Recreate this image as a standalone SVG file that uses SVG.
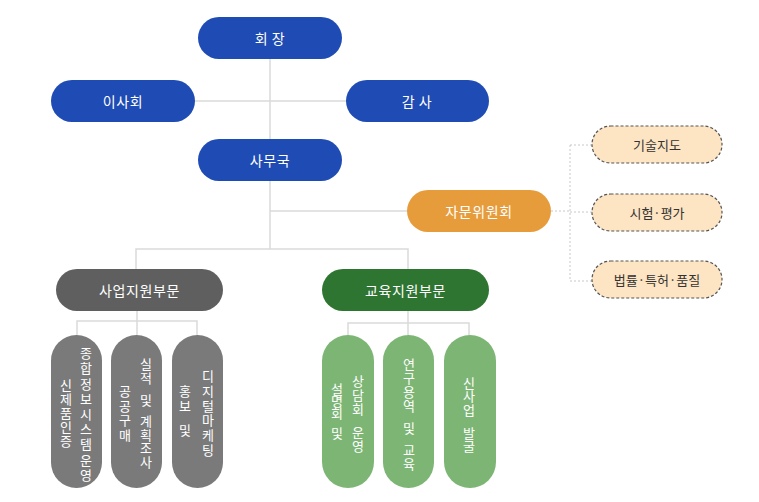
<svg xmlns="http://www.w3.org/2000/svg" width="759" height="502" viewBox="0 0 759 502">
<style>
text{font-family:"Noto Sans CJK KR","Noto Sans",sans-serif;}
.lbl{font-size:14px;fill:#fff;text-anchor:middle;dominant-baseline:central;letter-spacing:0.6px;}
.sub{font-size:13px;fill:#333;text-anchor:middle;dominant-baseline:central;}
.vt{font-size:13px;fill:#fff;text-anchor:middle;dominant-baseline:central;}
.blue{fill:#1f4bb5;}
.grey{fill:#5f5f5f;}
.green{fill:#2f7532;}
.orange{fill:#e79c3b;}
.pale{fill:#fde4c2;stroke:#555;stroke-width:1.2;stroke-dasharray:3 2;}
.pg{fill:#7a7a7a;}
.pgr{fill:#7db575;}
.ln{fill:none;stroke:#dadada;stroke-width:1.5;}
.dl{fill:none;stroke:#c8c8c8;stroke-width:1;stroke-dasharray:2 2;}
</style>
<rect width="759" height="502" fill="#fff"/>
<g id="connectors">
<path class="ln" d="M270 59V249M195 101H346M270 211H407M136 269V249H408V269"/>
<path class="ln" d="M137 311V321M77 335V321H197V335M137 321V335"/>
<path class="ln" d="M408 311V323M348 335V323H469V335M408 323V335"/>
<path class="dl" d="M551 211H570M570 145V281M570 145H592M570 212H592M570 281H592"/>
</g>
<g id="n-chair"><rect class="blue" x="198" y="17" width="144" height="42" rx="21"/><text class="lbl" x="270" y="38">회 장</text></g>
<g id="n-board"><rect class="blue" x="51" y="80" width="144" height="42" rx="21"/><text class="lbl" x="123" y="101">이사회</text></g>
<g id="n-audit"><rect class="blue" x="346" y="80" width="143" height="42" rx="21"/><text class="lbl" x="417" y="101">감 사</text></g>
<g id="n-office"><rect class="blue" x="198" y="139" width="144" height="42" rx="21"/><text class="lbl" x="270" y="160">사무국</text></g>
<g id="n-advisory"><rect class="orange" x="407" y="190" width="144" height="42" rx="21"/><text class="lbl" x="479" y="211">자문위원회</text></g>
<g id="n-tech"><rect class="pale" x="592" y="126" width="130" height="37" rx="18.5"/><text class="sub" x="657" y="144.5">기술지도</text></g>
<g id="n-test"><rect class="pale" x="592" y="194" width="130" height="37" rx="18.5"/><text class="sub" x="657" y="212.5">시험·평가</text></g>
<g id="n-law"><rect class="pale" x="592" y="261" width="130" height="37" rx="18.5"/><text class="sub" x="657" y="279.5">법률·특허·품질</text></g>
<g id="n-biz"><rect class="grey" x="56" y="269" width="167" height="42" rx="21"/><text class="lbl" x="139.5" y="290">사업지원부문</text></g>
<g id="n-edu"><rect class="green" x="322" y="269" width="167" height="42" rx="21"/><text class="lbl" x="405.5" y="290">교육지원부문</text></g>
<g id="p-b1"><rect class="pg" x="51" y="335" width="51" height="153" rx="25.5"/>
<text class="vt" x="66 66 66 66 66" y="384.9 398.7 412.5 426.3 440.1">신제품인증</text>
<text class="vt" x="86 86 86 86 86 86 86 86 86" y="352.6 367.8 383 398.2 413.4 428.6 443.8 459 474.2">종합정보시스템운영</text></g>
<g id="p-b2"><rect class="pg" x="111" y="335" width="51" height="153" rx="25.5"/>
<text class="vt" x="125 125 125 125" y="390.4 405.1 419.9 434.6">공공구매</text>
<text class="vt" x="146 146 146 146 146 146 146 146 146" y="363.8 377.3 388.4 399 409.8 420.6 434.2 447.7 461.2">실적 및 계획조사</text></g>
<g id="p-b3"><rect class="pg" x="172" y="335" width="51" height="153" rx="25.5"/>
<text class="vt" x="185 185 185 185" y="390.5 405.5 417.5 429.5">홍보 및</text>
<text class="vt" x="208 208 208 208 208 208" y="375.4 390.2 405 419.8 434.6 449.4">디지털마케팅</text></g>
<g id="p-e1"><rect class="pgr" x="322" y="335" width="52" height="153" rx="26"/>
<text class="vt" x="337 337 337 337 337" y="388.1 400.3 412.5 422 432">설명회 및</text>
<text class="vt" x="358 358 358 358 358 358" y="380.1 394.4 408.7 420.2 431.6 445.9">상담회 운영</text></g>
<g id="p-e2"><rect class="pgr" x="383" y="335" width="51" height="153" rx="25.5"/>
<text class="vt" x="409 409 409 409 409 409 409 409 409" y="363.9 377.7 391.5 405.3 416.4 427.4 438.5 449.5 463.3">연구용역 및 교육</text></g>
<g id="p-e3"><rect class="pgr" x="444" y="335" width="52" height="153" rx="26"/>
<text class="vt" x="469 469 469 469 469 469" y="382 395.9 409.8 420.9 432 445.9">신사업 발굴</text></g>
</svg>
